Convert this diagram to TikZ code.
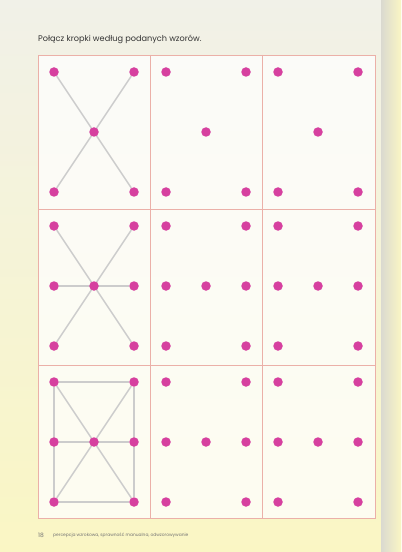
\documentclass[tikz,border=0pt]{standalone}
\usepackage{fontspec}
\setmainfont{Poppins}
\usetikzlibrary{backgrounds}
\definecolor{dotpink}{HTML}{D6409F}
\definecolor{gridrose}{HTML}{EBB0A8}
\definecolor{linegray}{HTML}{CCCCCC}
\definecolor{papertop}{HTML}{F1F1E8}
\definecolor{papermid}{HTML}{F8F7EC}
\definecolor{paperlow}{HTML}{FAF6C4}
\tikzset{
  dot/.style={circle,fill=dotpink,inner sep=0pt,minimum size=9.5bp},
  link/.style={draw=linegray,line width=1.4bp},
  cell/.style={draw=gridrose,line width=0.8bp},
}

\begin{document}
\begin{tikzpicture}[x=1bp,y=-1bp]
\useasboundingbox (0,0) rectangle (401,552);
% Paper
\begin{pgfonlayer}{background}
\shade[top color=papertop,middle color=papermid,bottom color=paperlow] (0,0) rectangle (401,552);
\shade[left color=black!12!papermid,right color=paperlow] (381,0) rectangle (401,552);
\fill[white,opacity=0.75] (38,55) rectangle (375,518);
% Grid
\draw[cell] (38,55) rectangle (375,518);
\draw[cell] (150,55) -- (150,518);
\draw[cell] (262,55) -- (262,518);
\draw[cell] (38,209) -- (375,209);
\draw[cell] (38,365) -- (375,365);
\end{pgfonlayer}
% Title and footer
\node[anchor=base west,inner sep=0pt,font=\fontsize{8.2}{10}\selectfont,text=black!80] (title) at (38,42) {Połącz kropki według podanych wzorów.};
\node[anchor=base west,inner sep=0pt,font=\fontsize{6}{7}\selectfont,text=black!55] (page) at (38,537) {18};
\node[anchor=base west,inner sep=0pt,font=\fontsize{4.4}{5}\selectfont,text=black!55] (topic) at (53,536) {percepcja wzrokowa, sprawność manualna, odwzorowywanie};
% Dots
\foreach \c/\x in {1/38,2/150,3/262} {
  % row 1
  \node[dot] (a\c tl) at (\x+16,72) {};
  \node[dot] (a\c tr) at (\x+96,72) {};
  \node[dot] (a\c c) at (\x+56,132) {};
  \node[dot] (a\c bl) at (\x+16,192) {};
  \node[dot] (a\c br) at (\x+96,192) {};
  % row 2
  \node[dot] (b\c tl) at (\x+16,226) {};
  \node[dot] (b\c tr) at (\x+96,226) {};
  \node[dot] (b\c ml) at (\x+16,286) {};
  \node[dot] (b\c c) at (\x+56,286) {};
  \node[dot] (b\c mr) at (\x+96,286) {};
  \node[dot] (b\c bl) at (\x+16,346) {};
  \node[dot] (b\c br) at (\x+96,346) {};
  % row 3
  \node[dot] (c\c tl) at (\x+16,382) {};
  \node[dot] (c\c tr) at (\x+96,382) {};
  \node[dot] (c\c ml) at (\x+16,442) {};
  \node[dot] (c\c c) at (\x+56,442) {};
  \node[dot] (c\c mr) at (\x+96,442) {};
  \node[dot] (c\c bl) at (\x+16,502) {};
  \node[dot] (c\c br) at (\x+96,502) {};
}
% Patterns
\begin{pgfonlayer}{background}
\draw[link] (a1tl) -- (a1br);
\draw[link] (a1tr) -- (a1bl);
%
\draw[link] (b1tl) -- (b1br);
\draw[link] (b1tr) -- (b1bl);
\draw[link] (b1ml) -- (b1mr);
%
\draw[link] (c1tl) -- (c1tr);
\draw[link] (c1tr) -- (c1br);
\draw[link] (c1br) -- (c1bl);
\draw[link] (c1bl) -- (c1tl);
\draw[link] (c1ml) -- (c1mr);
\draw[link] (c1tl) -- (c1br);
\draw[link] (c1tr) -- (c1bl);
\end{pgfonlayer}
\end{tikzpicture}
\end{document}
